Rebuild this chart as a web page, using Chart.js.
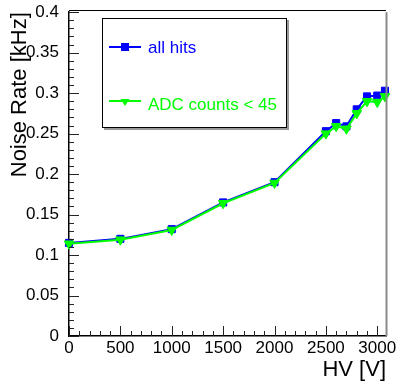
<!DOCTYPE html>
<html>
<head>
<meta charset="utf-8">
<script src="https://cdn.jsdelivr.net/npm/chart.js@4.4.0/dist/chart.umd.min.js"></script>
<style>
  body { margin: 0; background: #fff; }
  #wrap { width: 398px; height: 384px; }
</style>
</head>
<body>
<div id="wrap"><canvas id="myChart" width="398" height="384"></canvas></div>
<script>
const hv = [0, 500, 1000, 1500, 2000, 2500, 2600, 2700, 2800, 2900, 3000, 3075];
const allHits = [0.115, 0.120, 0.132, 0.165, 0.190, 0.253, 0.263, 0.259, 0.280, 0.296, 0.297, 0.303];
const adcCut = [0.114, 0.119, 0.131, 0.164, 0.189, 0.250, 0.259, 0.256, 0.275, 0.290, 0.289, 0.296];
const xTicks = [0, 500, 1000, 1500, 2000, 2500, 3000];
const yTicks = [0, 0.05, 0.1, 0.15, 0.2, 0.25, 0.3, 0.35, 0.4];
const yLabels = ['0', '0.05', '0.1', '0.15', '0.2', '0.25', '0.3', '0.35', '0.4'];

const ctx = document.getElementById('myChart');
Chart.defaults.font.family = "'Liberation Sans', Arial, sans-serif";
Chart.defaults.color = '#000';

function points(ys) {
  return hv.map((x, i) => ({x: x, y: ys[i]}));
}

// ROOT style frame: inward ticks, top/right frame lines, boxed legend
const rootFrame = {
  id: 'rootFrame',
  afterDatasetsDraw(chart) {
    const c = chart.ctx;
    const a = chart.chartArea;
    const xs = chart.scales.x, ys = chart.scales.y;
    c.save();
    c.strokeStyle = '#000';
    c.lineWidth = 1;
    c.beginPath();
    c.moveTo(a.left, 10.5);
    c.lineTo(a.right, 10.5);
    c.stroke();
    c.strokeStyle = '#8a8a8a';
    c.lineWidth = 2;
    c.beginPath();
    c.moveTo(a.right + 0.5, a.top);
    c.lineTo(a.right + 0.5, a.bottom);
    c.stroke();

    c.strokeStyle = '#222';
    c.lineWidth = 1;
    c.beginPath();
    for (let v = 0; v <= 3085; v += 100) {
      const px = Math.round(xs.getPixelForValue(v)) + 0.5;
      const len = v % 500 === 0 ? 10 : 5;
      c.moveTo(px, a.bottom);
      c.lineTo(px, a.bottom - len);
    }
    for (let k = 0; k <= 40; k++) {
      const py = Math.round(ys.getPixelForValue(k / 100)) + 0.5;
      const len = k % 5 === 0 ? 10 : 5;
      c.moveTo(a.left, py);
      c.lineTo(a.left + len, py);
    }
    c.stroke();
    c.restore();
  },
  afterDraw(chart) {
    const c = chart.ctx;
    c.save();
    // legend box with shadow
    c.fillStyle = '#999';
    c.fillRect(104, 20, 185, 110);
    c.fillStyle = '#fff';
    c.fillRect(102, 18, 185, 110);
    c.strokeStyle = '#000';
    c.lineWidth = 1;
    c.strokeRect(102.5, 18.5, 184, 109);

    const entries = [
      {text: 'all hits', color: '#0000ff', ly: 47, ty: 53, marker: 'sq'},
      {text: 'ADC counts < 45', color: '#00ff00', ly: 101, ty: 110, marker: 'tri'}
    ];
    c.font = "17px 'Liberation Sans', Arial, sans-serif";
    c.textBaseline = 'alphabetic';
    c.textAlign = 'left';
    entries.forEach(e => {
      c.strokeStyle = e.color;
      c.lineWidth = 2;
      c.beginPath();
      c.moveTo(109, e.ly);
      c.lineTo(141, e.ly);
      c.stroke();
      c.fillStyle = e.color;
      if (e.marker === 'sq') {
        c.fillRect(121, e.ly - 4, 8, 8);
      } else {
        c.beginPath();
        c.moveTo(120.5, e.ly - 2);
        c.lineTo(129.5, e.ly - 2);
        c.lineTo(125, e.ly + 5);
        c.closePath();
        c.fill();
      }
      c.fillText(e.text, 148, e.ty);
    });
    c.restore();
  }
};

new Chart(ctx, {
  type: 'line',
  data: {
    datasets: [{
      label: 'all hits',
      data: points(allHits),
      borderColor: '#0000ff',
      backgroundColor: '#0000ff',
      borderWidth: 2,
      pointStyle: 'rect',
      pointRadius: 5,
      pointBorderWidth: 1,
      order: 1,
      clip: false
    }, {
      label: 'ADC counts < 45',
      data: points(adcCut),
      borderColor: '#00ff00',
      backgroundColor: '#00ff00',
      borderWidth: 2,
      pointStyle: 'triangle',
      pointRotation: 180,
      pointRadius: 5.5,
      pointBorderWidth: 1,
      order: 0,
      clip: false
    }]
  },
  options: {
    responsive: false,
    animation: false,
    events: [],
    layout: { padding: { top: 10, right: 12, left: 0, bottom: 0 } },
    plugins: {
      legend: { display: false },
      tooltip: { enabled: false }
    },
    elements: { line: { tension: 0 } },
    scales: {
      x: {
        type: 'linear',
        min: 0,
        max: 3085,
        grid: { display: false },
        border: { display: true, color: '#000', width: 1.5 },
        afterBuildTicks(scale) { scale.ticks = xTicks.map(v => ({value: v})); },
        afterFit(scale) { scale.height = 48; },
        ticks: {
          padding: -6,
          maxRotation: 0,
          autoSkip: false,
          font: { size: 17 },
          callback: v => String(v)
        },
        title: {
          display: true,
          text: 'HV [V]',
          align: 'end',
          font: { size: 22 },
          padding: { top: 0, bottom: 1 }
        }
      },
      y: {
        type: 'linear',
        min: 0,
        max: 0.4,
        grid: { display: false },
        border: { display: true, color: '#000', width: 1.5 },
        afterBuildTicks(scale) { scale.ticks = yTicks.map(v => ({value: v})); },
        afterFit(scale) { scale.width = 69; },
        ticks: {
          padding: 2,
          autoSkip: false,
          font: { size: 17 },
          callback: (v, i) => yLabels[i]
        },
        title: {
          display: true,
          text: 'Noise Rate [kHz]',
          align: 'end',
          font: { size: 22 },
          padding: { top: 7, bottom: 0 }
        }
      }
    }
  },
  plugins: [rootFrame]
});
</script>
</body>
</html>
